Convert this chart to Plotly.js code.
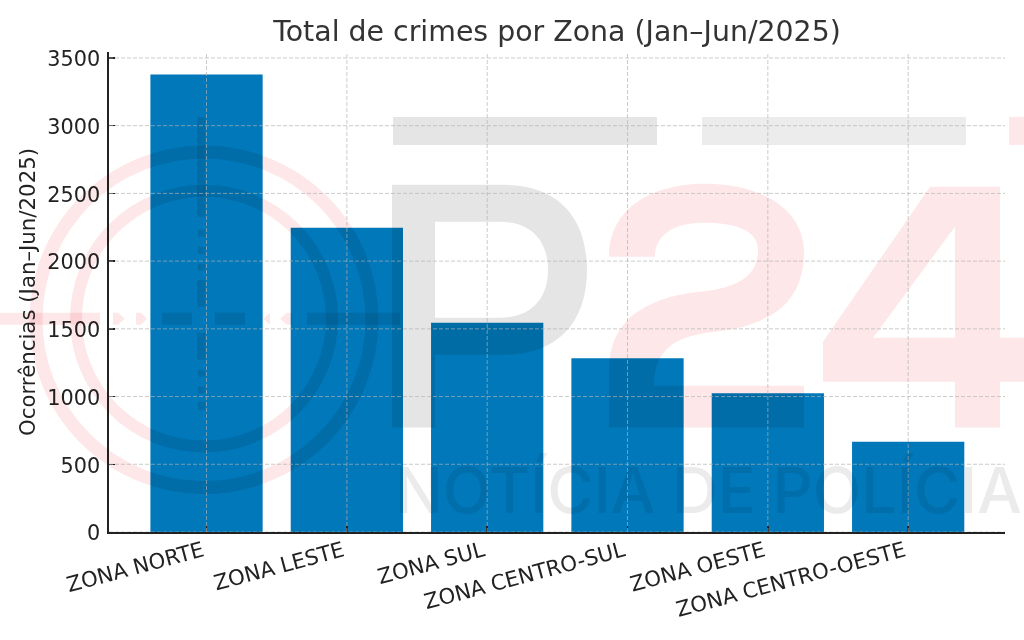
<!DOCTYPE html>
<html><head><meta charset="utf-8">
<script src="https://cdn.plot.ly/plotly-3.0.1.min.js"></script>
<style>html,body{margin:0;padding:0;background:#fff}</style></head>
<body><div id="chart" style="width:1024px;height:640px"></div>
<script>
const zonas = ["ZONA NORTE","ZONA LESTE","ZONA SUL","ZONA CENTRO-SUL","ZONA OESTE","ZONA CENTRO-OESTE"];
const ocorrencias = [3378,2246,1545,1283,1025,667];
const yTicks = [0,500,1000,1500,2000,2500,3000,3500];
const chartTitle = "Total de crimes por Zona (Jan–Jun/2025)";
const yTitle = "Ocorrências (Jan–Jun/2025)";
const watermarkText = "NOTÍCIA DE POLÍCIA";

const W=1024,H=640,mL=109,mR=19,mT=52,mB=107.5;
const pw=W-mL-mR, ph=H-mT-mB;
const px=x=>(x-mL)/pw, py=y=>1-(y-mT)/ph;
// watermark artwork, written in page pixels
function tr(d){return d.replace(/(-?[\d.]+),(-?[\d.]+)/g,(m,a,b)=>px(+a).toFixed(5)+','+py(+b).toFixed(5));}
const RED='#fde7e9', GR1='#e5e5e5', GR2='#ececec';
function wm(d,c){return {type:'path',xref:'paper',yref:'paper',path:tr(d),fillcolor:c,fillrule:'evenodd',line:{width:0},layer:'above'};}
function box(x0,y0,x1,y1,c){return wm(`M${x0},${y0} L${x1},${y0} L${x1},${y1} L${x0},${y1} Z`,c);}
function ring(cx,cy,r,w,c){return {type:'circle',xref:'paper',yref:'paper',x0:px(cx-r),x1:px(cx+r),y0:py(cy+r),y1:py(cy-r),fillcolor:'rgba(0,0,0,0)',line:{color:c,width:w},layer:'above'};}
const watermark=[
 ring(204,320,168,13,RED), ring(204,319,128,12,RED),
 box(0,313,100,325,RED),
 wm('M113,313 L118,313 L125,319 L118,325 L113,325 Z',RED),
 wm('M136,313 L141,313 L147,319 L141,325 L136,325 Z',RED),
 box(162,313,192,325,RED), box(215,313,245,325,RED),
 wm('M263,319 L270,313 L270,325 Z',RED),
 wm('M292,313 L287,313 L280,319 L287,325 L292,325 Z',RED),
 box(307,313,400,325,RED),
 box(197,117,205,217,RED), box(198,230,205,237,RED), box(198,247,205,254,RED),
 box(198,264,205,271,RED), box(197,280,205,307,RED), box(197,333,205,360,RED),
 box(198,370,205,377,RED), box(198,387,205,394,RED), box(198,402,205,410,RED),
 box(393,117,657,145,GR1), box(702,117,966,145,GR2), box(1009,117,1024,145,RED),
 wm('M392,185 L505,185 C555,185 587,215 587,270 C587,325 555,355 505,355 L435,355 L435,428 L392,428 Z M435,222 L435,318 L500,318 C530,318 548,300 548,270 C548,240 530,222 500,222 Z',GR1),
 wm('M609,257 C609,210 650,184 705,184 C765,184 804,212 804,252 C804,300 775,325 715,332 C675,336 654,350 654,386 L804,386 L804,428 L609,428 L609,370 C609,325 640,298 700,292 C740,288 758,275 758,250 C758,232 738,223 705,223 C672,223 655,236 655,257 Z',RED),
 wm('M930,187 L1000,187 L1000,338 L1024,338 L1024,382 L1000,382 L1000,428 L955,428 L955,382 L823,382 L823,342 Z M955,227 L873,338 L955,338 Z',RED)
];
const GRID='rgba(178,178,178,0.75)';
const grid=[
 ...yTicks.map(v=>({type:'line',xref:'paper',yref:'y',x0:0,x1:1,y0:v,y1:v,line:{color:GRID,width:0.9,dash:'4px,2px'},layer:'above'})),
 ...zonas.map(z=>({type:'line',xref:'x',yref:'paper',x0:z,x1:z,y0:0,y1:1,line:{color:GRID,width:0.9,dash:'4px,2px'},layer:'above'}))
];
const FONT='"DejaVu Sans", sans-serif';
Plotly.newPlot('chart',[{type:'bar',x:zonas,y:ocorrencias,width:0.8,marker:{color:'#0078b9',line:{width:0}},hoverinfo:'x+y'}],{
 width:W,height:H,margin:{l:mL,r:mR,t:mT,b:mB,pad:0},
 paper_bgcolor:'#fff',plot_bgcolor:'#fff',showlegend:false,
 font:{family:FONT,color:'#222'},
 title:{text:chartTitle,font:{family:FONT,size:28.4,color:'#333'},xref:'paper',x:0.5,xanchor:'center',yref:'container',y:0.951,yanchor:'middle'},
 xaxis:{type:'category',categoryorder:'array',categoryarray:zonas,range:[-0.695,5.69],showgrid:false,zeroline:false,showline:true,linecolor:'#222',linewidth:1.6,ticks:'inside',ticklen:6,tickwidth:1.4,tickcolor:'#222',tickangle:-15,ticklabelshift:-4,ticklabelstandoff:-3,tickfont:{family:FONT,size:21.3,color:'#222'},automargin:false},
 yaxis:{range:[0,3544],tickmode:'array',tickvals:yTicks,ticktext:yTicks.map(String),showgrid:false,zeroline:false,showline:true,linecolor:'#222',linewidth:1.6,ticks:'inside',ticklen:6,tickwidth:1.4,tickcolor:'#222',ticklabelstandoff:3,ticklabelshift:1,tickfont:{family:FONT,size:20.8,color:'#222'},title:{text:yTitle,font:{family:FONT,size:21.3,color:'#222'},standoff:6},automargin:false},
 shapes:[...watermark,...grid],
 annotations:[{text:watermarkText,xref:'paper',yref:'paper',x:px(708),y:py(490),xanchor:'center',yanchor:'middle',showarrow:false,font:{family:'Inter, sans-serif',size:63,weight:500,color:'rgba(0,0,0,0.08)'}}]
},{displayModeBar:false,staticPlot:true}).then(()=>{
 const paths=document.querySelectorAll('.layer-above .shapelayer path');
 for(let i=0;i<watermark.length;i++) if(paths[i]) paths[i].style.mixBlendMode='multiply';
});
</script></body></html>
